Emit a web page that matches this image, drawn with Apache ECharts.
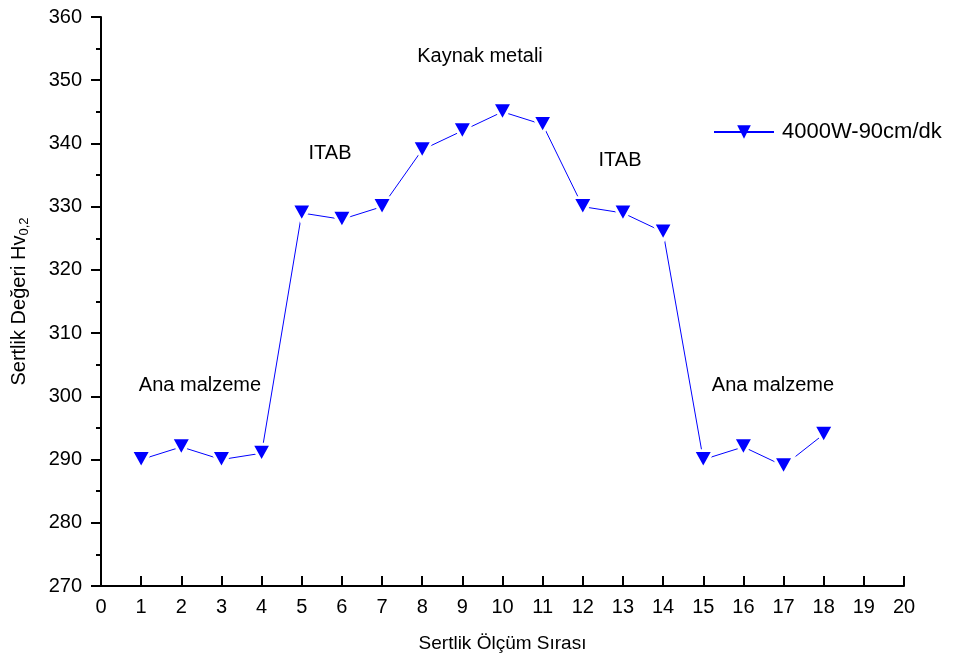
<!DOCTYPE html>
<html><head><meta charset="utf-8">
<script src="https://cdn.jsdelivr.net/npm/echarts@6/dist/echarts.min.js"></script>
<style>html,body{margin:0;padding:0;background:#fff}#c{width:955px;height:660px}</style>
</head><body><div id="c"></div>
<script>
const positions = [1,2,3,4,5,6,7,8,9,10,11,12,13,14,15,16,17,18];
const hardness = [290,292,290,291,329,328,330,339,342,345,343,330,329,326,290,292,289,294];
const seriesName = '4000W-90cm/dk';
const annotations = [
  {text:'Kaynak metali', x:480, y:56},
  {text:'ITAB', x:330, y:153},
  {text:'ITAB', x:620, y:160},
  {text:'Ana malzeme', x:200, y:385},
  {text:'Ana malzeme', x:773, y:385}
];
const font = 'Liberation Sans, Arial, sans-serif';
const chart = echarts.init(document.getElementById('c'));
chart.setOption({
  animation:false,
  textStyle:{fontFamily:font},
  grid:{left:101,right:51,top:17,bottom:74,containLabel:false,outerBoundsMode:'none'},
  legend:{
    data:[seriesName],
    itemStyle:{borderWidth:0},
    left:713, top:121, itemWidth:60, itemHeight:17, itemGap:0,
    textStyle:{fontSize:22, color:'#000', fontFamily:font, padding:[0,0,0,3]}, padding:0
  },
  xAxis:{
    type:'value', min:0, max:20, interval:1,
    axisLine:{lineStyle:{color:'#000', width:2}},
    axisTick:{inside:true, length:10, lineStyle:{color:'#000', width:2}},
    axisLabel:{fontSize:20, color:'#000', margin:11},
    splitLine:{show:false},
    name:'Sertlik Ölçüm Sırası', nameLocation:'middle', nameGap:48,
    nameTextStyle:{fontSize:19, color:'#000'}
  },
  yAxis:{
    type:'value', min:270, max:360, interval:10,
    axisLine:{lineStyle:{color:'#000', width:2}},
    axisTick:{inside:false, length:10, lineStyle:{color:'#000', width:2}},
    minorTick:{show:true, splitNumber:2, length:5, lineStyle:{color:'#000', width:2}},
    axisLabel:{fontSize:20, color:'#000', margin:19},
    splitLine:{show:false},
    name:'{a|Sertlik Değeri Hv}{b|0,2}', nameLocation:'middle', nameGap:70,
    nameTextStyle:{rich:{a:{fontSize:20,color:'#000',fontFamily:font},b:{fontSize:13,color:'#000',fontFamily:font,verticalAlign:'bottom',padding:[10,0,0,0]}}}
  },
  series:[{
    name:seriesName, type:'line',
    data: positions.map((p,i)=>[p, hardness[i]]),
    symbol:'triangle', symbolRotate:180, symbolSize:[20,18],
    lineStyle:{color:'#0000ff', width:1},
    itemStyle:{color:'#0000ff', borderColor:'#fff', borderWidth:3}
  }],
  graphic: annotations.map(a=>({
    type:'text', x:a.x, y:a.y,
    style:{text:a.text, fill:'#000', font:'20px '+font, textAlign:'center', textVerticalAlign:'middle'}
  }))
});
</script></body></html>
